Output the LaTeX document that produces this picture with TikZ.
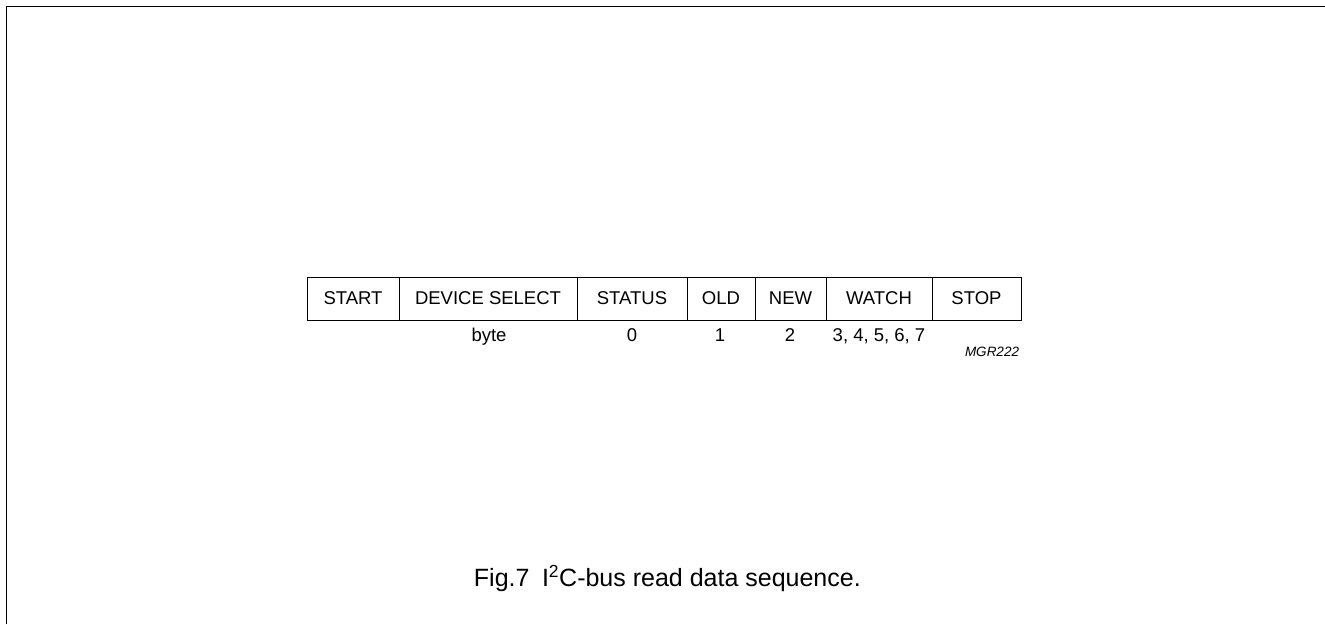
\documentclass[tikz,border=0pt]{standalone}
\usepackage{fontspec}
\setmainfont{Liberation Sans}
\usepackage{tikz}

\tikzset{
	field/.style={draw, line width=0.9pt, minimum height=43pt, inner sep=0pt, font=\fontsize{18.5}{22}\selectfont},
	index/.style={inner sep=0pt, anchor=base, font=\fontsize{18.5}{22}\selectfont},
}

\begin{document}
\begin{tikzpicture}[x=1pt,y=-1pt]
	\useasboundingbox (0,0) rectangle (1325,624);
	\draw [line width=1.5pt] (6.5,624) -- (6.5,6.5) -- (1325,6.5);
	% fields of the read sequence
	\node [field, minimum width=92pt] at (353,298.5) (start) {START};
	\node [field, minimum width=178pt] at (488,298.5) (dev) {DEVICE SELECT};
	\node [field, minimum width=110pt] at (632,298.5) (status) {STATUS};
	\node [field, minimum width=68pt] at (721,298.5) (old) {OLD};
	\node [field, minimum width=71pt] at (790.5,298.5) (new) {NEW};
	\node [field, minimum width=106pt] at (879,298.5) (watch) {WATCH};
	\node [field, minimum width=89pt] at (976.5,298.5) (stop) {STOP};
	% byte numbers
	\node [index] at (489,341) (ibyte) {byte};
	\node [index] at (632,341) (i0) {0};
	\node [index] at (720,341) (i1) {1};
	\node [index] at (790,341) (i2) {2};
	\node [index] at (879,341) (i3) {3, 4, 5, 6, 7};
	\node [inner sep=0pt, anchor=base, font=\fontsize{13.5}{16}\selectfont\itshape] at (992,356) (code) {MGR222};
	% caption
	\node [inner sep=0pt, anchor=east, font=\fontsize{25}{29}\selectfont] at (861,578) (caption) {Fig.7\enspace I\textsuperscript{2}C-bus read data sequence.};
\end{tikzpicture}
\end{document}
